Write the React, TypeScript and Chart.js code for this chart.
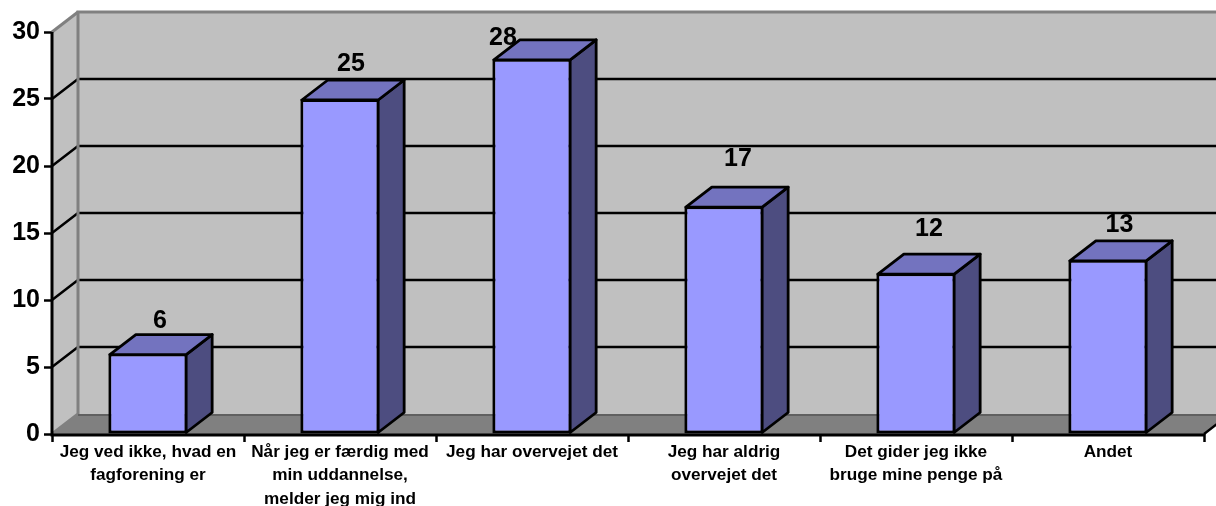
import React, { useEffect, useRef } from "react";
import { Chart, registerables } from "chart.js";

Chart.register(...registerables);

const categories = [
  ["Jeg ved ikke, hvad en", "fagforening er"],
  ["Når jeg er færdig med", "min uddannelse,", "melder jeg mig ind"],
  ["Jeg har overvejet det"],
  ["Jeg har aldrig", "overvejet det"],
  ["Det gider jeg ikke", "bruge mine penge på"],
  ["Andet"],
];
const values = [6, 25, 28, 17, 12, 13];
const yTicks = [0, 5, 10, 15, 20, 25, 30];

const FONT = '"Liberation Sans", Arial, sans-serif';
const DX = 26;
const DY = -20;
// Hand-placed data labels of the original: offset from the back edge of each bar's top.
const labelShift = [
  [12, -13],
  [11, -16],
  [-29, -2],
  [14, -28],
  [13, -25],
  [11.5, -16],
];

const poly = (ctx: CanvasRenderingContext2D, pts: number[][], fill?: string, stroke?: string, lw = 2) => {
  ctx.beginPath();
  pts.forEach(([x, y], i) => (i ? ctx.lineTo(x, y) : ctx.moveTo(x, y)));
  if (fill) {
    ctx.closePath();
    ctx.fillStyle = fill;
    ctx.fill();
  }
  if (stroke) {
    ctx.strokeStyle = stroke;
    ctx.lineWidth = lw;
    ctx.stroke();
  }
};

const room = {
  id: "room",
  beforeDatasetsDraw(chart: any) {
    const { ctx, chartArea: a, scales } = chart;
    const y = scales.y;
    const l = a.left, r = a.right, t = y.getPixelForValue(30), b = y.getPixelForValue(0);
    ctx.save();
    poly(ctx, [[l + DX, t + DY], [r + DX, t + DY], [r + DX, b + DY], [l + DX, b + DY]], "#C0C0C0");
    poly(ctx, [[l, t], [l + DX, t + DY], [l + DX, b + DY], [l, b]], "#C0C0C0");
    poly(ctx, [[l, b], [l + DX, b + DY], [r + DX, b + DY], [r, b]], "#808080");
    yTicks.slice(1, -1).forEach((v) => {
      const p = y.getPixelForValue(v);
      poly(ctx, [[l, p], [l + DX, p + DY], [r + DX, p + DY]], undefined, "#000000", 2.5);
    });
    poly(ctx, [[l, b], [l + DX, b + DY], [l + DX, t + DY], [r + DX, t + DY]], undefined, "#808080", 3);
    poly(ctx, [[l, t], [l + DX, t + DY]], undefined, "#808080", 3);
    poly(ctx, [[l + DX, b + DY + 1], [r + DX, b + DY + 1]], undefined, "#606060", 2);
    poly(ctx, [[r, b], [r + DX, b + DY]], undefined, "#000000", 2.5);
    ctx.restore();
  },
};

const boxes = {
  id: "boxes",
  afterDatasetsDraw(chart: any) {
    const { ctx } = chart;
    const meta = chart.getDatasetMeta(0);
    ctx.save();
    ctx.lineJoin = "round";
    meta.data.forEach((bar: any) => {
      const half = bar.width / 2;
      const L = bar.x - half + 1.5, R = bar.x + half - 1.5;
      const T = bar.y + 1, B = bar.base - 1;
      poly(ctx, [[R, T], [R + DX, T + DY], [R + DX, B + DY], [R, B]], "#4D4D80", "#000000", 2.8);
      poly(ctx, [[L, T], [L + DX, T + DY], [R + DX, T + DY], [R, T]], "#7373BF", "#000000", 2.8);
    });
    meta.data.forEach((bar: any, i: number) => {
      ctx.fillStyle = "#000000";
      ctx.font = `bold 25px ${FONT}`;
      ctx.textAlign = "center";
      ctx.textBaseline = "middle";
      ctx.fillText(String(values[i]), bar.x + labelShift[i][0], bar.y + DY + labelShift[i][1] + 1);
    });
    ctx.restore();
  },
};

const axes = {
  id: "frontAxes",
  afterDraw(chart: any) {
    const { ctx, chartArea: a, scales } = chart;
    const t = scales.y.getPixelForValue(30), b = scales.y.getPixelForValue(0);
    ctx.save();
    poly(ctx, [[a.left, t], [a.left, b + 1], [a.right, b + 1]], undefined, "#000000", 3);
    ctx.restore();
  },
};

export default function App() {
  const ref = useRef<HTMLCanvasElement>(null);
  useEffect(() => {
    document.body.style.margin = "0";
    const chart = new Chart(ref.current!, {
      type: "bar",
      data: {
        labels: categories,
        datasets: [
          {
            data: values,
            backgroundColor: "#9999FF",
            borderColor: "#000000",
            borderWidth: 3,
            borderSkipped: false,
            barPercentage: 0.413,
            categoryPercentage: 1,
          },
        ],
      },
      options: {
        animation: false,
        responsive: false,
        layout: { padding: { top: 32, right: 12, left: 0, bottom: 0 } },
        plugins: { legend: { display: false }, tooltip: { enabled: false } },
        scales: {
          x: {
            afterFit: (s: any) => { s.height = 72; },
            border: { display: false },
            grid: { drawOnChartArea: false, drawTicks: true, tickLength: 8, tickColor: "#000000", tickWidth: 2.5, offset: true },
            ticks: {
              color: "#000000",
              font: { family: FONT, weight: "bold", size: 17.2, lineHeight: 1.38 },
              maxRotation: 0,
              autoSkip: false,
              padding: -2,
            },
          },
          y: {
            min: 0,
            max: 30,
            afterFit: (s: any) => { s.width = 52; },
            border: { display: false },
            grid: { drawOnChartArea: false, drawTicks: true, tickLength: 8, tickColor: "#000000", tickWidth: 2.5 },
            ticks: {
              stepSize: 5,
              color: "#000000",
              font: { family: FONT, weight: "bold", size: 25 },
              padding: 4,
            },
          },
        },
      },
      plugins: [room, boxes, axes],
    } as any);
    return () => chart.destroy();
  }, []);
  return <canvas ref={ref} width={1216} height={506} style={{ display: "block" }} />;
}
